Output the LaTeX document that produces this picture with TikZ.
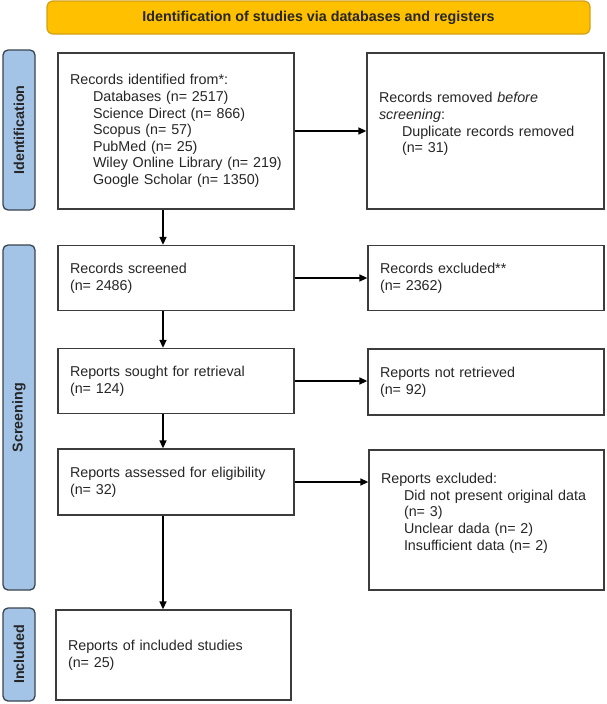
\documentclass[tikz,border=0pt]{standalone}
\usepackage{fontspec}
\setmainfont{Liberation Sans}
\usetikzlibrary{arrows.meta,calc}
\definecolor{banfill}{HTML}{FFC000}
\definecolor{bandraw}{HTML}{D4A017}
\definecolor{sidefill}{HTML}{A3C4E6}
\definecolor{sidedraw}{HTML}{3A4350}
\definecolor{boxdraw}{HTML}{3C3C3C}
\definecolor{txt}{HTML}{262626}
\begin{document}
\begin{tikzpicture}[x=1pt,y=-1pt,
  box/.style={draw=boxdraw, line width=1.3pt, fill=white, text=txt,
    font=\fontsize{14.3}{16.6}\selectfont, align=left,
    inner xsep=12pt, inner ysep=0pt},
  side/.style={draw=sidedraw, line width=1.3pt, fill=sidefill, rounded corners=5pt,
    text=txt, font=\bfseries\fontsize{14.3}{16.6}\selectfont, rotate=90,
    inner sep=0pt, minimum height=32pt},
  banner/.style={draw=bandraw, line width=1.2pt, fill=banfill, rounded corners=6pt,
    text=txt, font=\bfseries\fontsize{14.3}{16.6}\selectfont, inner sep=0pt},
  arr/.style={-{Triangle[length=8pt,width=7pt]}, line width=1.5pt, draw=black}
]
\useasboundingbox (0,0) rectangle (606,704);

\node[banner, minimum width=543pt, minimum height=33pt] (ban) at (318.5,17.5)
  {Identification of studies via databases and registers};

\node[side, minimum width=160pt] (lid) at (19,130) {Identification};
\node[side, minimum width=345pt] (lsc) at (19,417.5) {Screening};
\node[side, minimum width=93pt] (lin) at (19,654.5) {Included};

\node[box, text width=212pt, minimum height=156pt] (b1) at (176,131)
  {Records identified from*:\\
   \hspace*{23pt}Databases (n= 2517)\\
   \hspace*{23pt}Science Direct (n= 866)\\
   \hspace*{23pt}Scopus (n= 57)\\
   \hspace*{23pt}PubMed (n= 25)\\
   \hspace*{23pt}Wiley Online Library (n= 219)\\
   \hspace*{23pt}Google Scholar (n= 1350)};

\node[box, text width=213pt, minimum height=156pt] (r1) at (485.5,131)
  {Records removed \textit{before}\\
   \textit{screening}:\\
   \hspace*{23pt}Duplicate records removed\\
   \hspace*{23pt}(n= 31)\\ \mbox{}};

\node[box, text width=212pt, minimum height=65pt] (b2) at (176,278)
  {Records screened\\(n= 2486)};
\node[box, text width=212pt, minimum height=65pt] (r2) at (486,278)
  {Records excluded**\\(n= 2362)};

\node[box, text width=212pt, minimum height=65pt] (b3) at (176,381)
  {Reports sought for retrieval\\(n= 124)};
\node[box, text width=212pt, minimum height=66pt] (r3) at (486,382)
  {Reports not retrieved\\(n= 92)};

\node[box, text width=212pt, minimum height=66pt] (b4) at (176,482)
  {Reports assessed for eligibility\\(n= 32)};
\node[box, text width=211pt, minimum height=140pt] (r4) at (486.5,520)
  {Reports excluded:\\
   \hspace*{23pt}Did not present original data\\
   \hspace*{23pt}(n= 3)\\
   \hspace*{23pt}Unclear dada (n= 2)\\
   \hspace*{23pt}Insufficient data (n= 2)\\ \mbox{}};

\node[box, text width=211pt, minimum height=90pt] (b5) at (173.5,655)
  {Reports of included studies\\(n= 25)};

\coordinate (ax) at (163,0);
\draw[arr] (b1.south -| ax) -- (b2.north -| ax);
\draw[arr] (b2.south -| ax) -- (b3.north -| ax);
\draw[arr] (b3.south -| ax) -- (b4.north -| ax);
\draw[arr] (b4.south -| ax) -- (b5.north -| ax);

\draw[arr] (b1.east) -- (b1.east -| r1.west);
\draw[arr] (b2.east) -- (b2.east -| r2.west);
\draw[arr] (b3.east) -- (b3.east -| r3.west);
\draw[arr] (b4.east) -- (b4.east -| r4.west);
\end{tikzpicture}
\end{document}
